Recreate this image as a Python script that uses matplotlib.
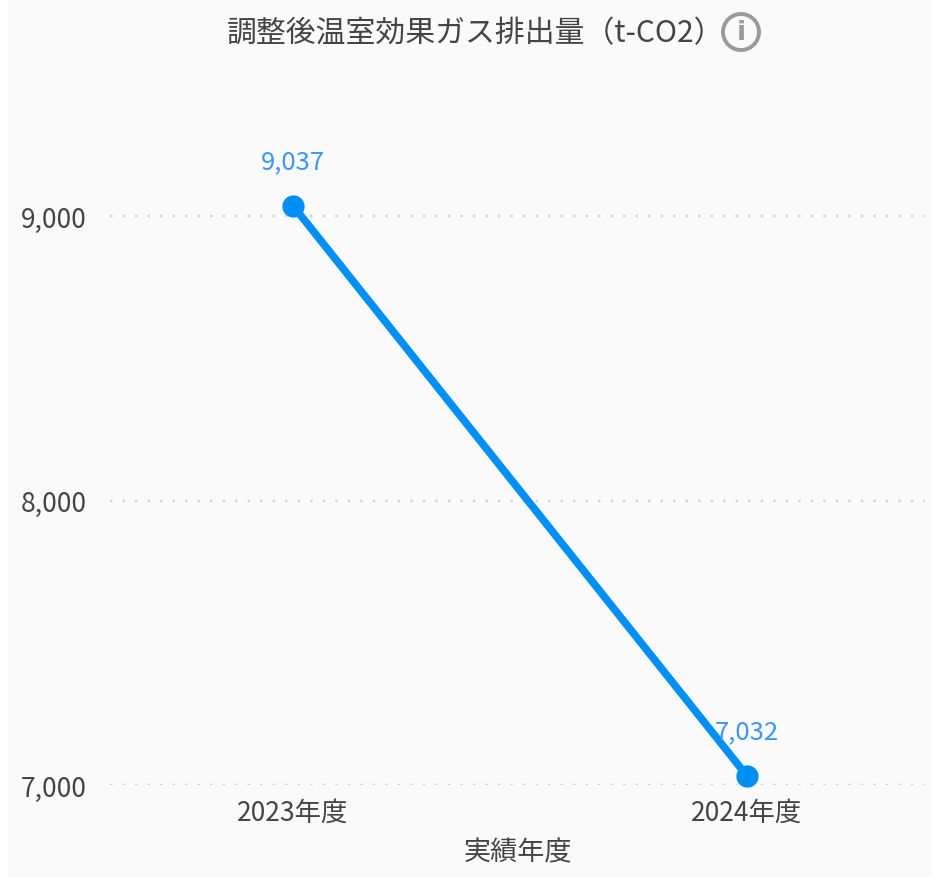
import matplotlib
matplotlib.use('Agg')
from matplotlib import pyplot as plt
from matplotlib.patches import Circle, Rectangle

years = ['2023年度', '2024年度']
emissions = [9037, 7032]
y_ticks = [7000, 8000, 9000]
y_tick_labels = ['7,000', '8,000', '9,000']
title = '調整後温室効果ガス排出量（t-CO2）'
x_title = '実績年度'

plt.rcParams['font.family'] = ['Noto Sans CJK JP', 'DejaVu Sans']

W, H = 932, 878
fig = plt.figure(figsize=(W / 100, H / 100), dpi=100, facecolor='#fafafa')

# slightly whiter strip down the left edge
fig.patches.append(Rectangle((0, 0), 8 / W, 1, transform=fig.transFigure, facecolor='#ffffff', edgecolor='none'))

# axes placed in pixels: 7,000 sits at y=786, 9,500 at y=75
ax = fig.add_axes([110 / W, (H - 786) / H, 815 / W, 711 / H], facecolor='none')
ax.set_xlim(-0.403, 1.392)
ax.set_ylim(7000, 9500)

for s in ax.spines.values():
    s.set_visible(False)

ax.set_yticks(y_ticks, y_tick_labels)
ax.set_xticks(range(len(years)), years)
ax.tick_params(axis='both', length=0, labelsize=19, labelcolor='#444444')
ax.tick_params(axis='y', pad=16.5)
ax.tick_params(axis='x', pad=10)
ax.grid(axis='y', color='#cfcfcf', linewidth=1.7, linestyle=(0, (1, 4.3)))
ax.set_axisbelow(True)

ax.plot(range(len(years)), emissions, color='#008ff5', linewidth=5.5, marker='o', markersize=15,
        solid_capstyle='round', clip_on=False)

for i, v in enumerate(emissions):
    ax.annotate(f'{v:,}', (i, v), xytext=(0, 32), textcoords='offset points', ha='center', va='center',
                fontsize=18.5, color='#3b97f3')

ax.set_xlabel(x_title, fontsize=19.5, color='#444444', labelpad=9)

fig.text(227 / W, 1 - 34 / H, title, ha='left', va='center', fontsize=21.5, color='#444444')

# info icon next to the title
fig.patches.append(Circle((741, H - 33), 18, transform=None, facecolor='none', edgecolor='#9a9a9a', linewidth=2.8))
fig.text(741 / W, 1 - 33 / H, 'i', ha='center', va='center', fontsize=19, color='#9a9a9a',
         family='DejaVu Sans', fontweight='bold')

fig.savefig('out.png', dpi=100, facecolor=fig.get_facecolor())
